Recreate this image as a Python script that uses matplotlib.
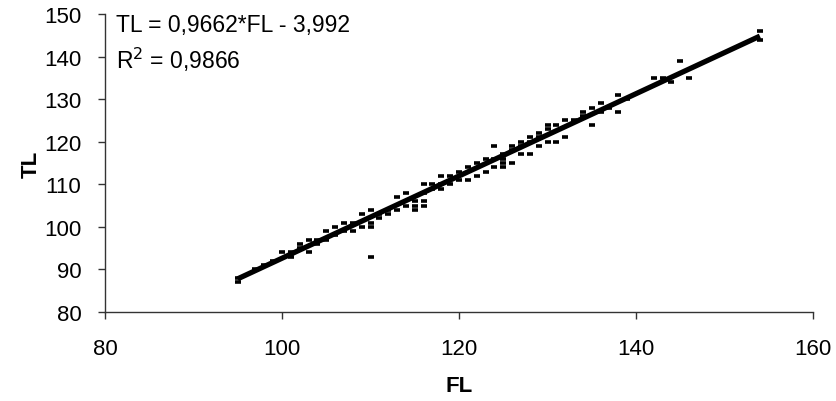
import matplotlib
matplotlib.use('Agg')
import matplotlib.pyplot as plt
import numpy as np

plt.rcParams['font.family'] = ['Liberation Sans', 'DejaVu Sans']

# Fork length vs total length, one dash per fish
FL = [95, 95, 97, 98, 99, 100, 101, 101, 102, 102, 103, 103, 104, 104, 105, 105,
      106, 106, 107, 107, 108, 108, 109, 109, 110, 110, 110, 110, 111, 111, 112, 112,
      113, 113, 114, 114, 115, 115, 115, 116, 116, 116, 116, 117, 117, 118, 118, 118,
      119, 119, 120, 120, 121, 121, 122, 122, 123, 123, 124, 124, 124, 125, 125, 125,
      125, 126, 126, 126, 127, 127, 127, 128, 128, 128, 129, 129, 129, 130, 130, 130,
      131, 131, 132, 132, 133, 134, 134, 135, 135, 136, 136, 137, 138, 138, 139, 142,
      143, 144, 145, 146, 154, 154]
TL = [87, 88, 90, 91, 92, 94, 93, 94, 96, 95, 97, 94, 96, 97, 99, 97,
      98, 100, 101, 99, 99, 101, 103, 100, 104, 101, 100, 93, 102, 103, 103, 104,
      107, 104, 108, 105, 106, 105, 104, 110, 106, 105, 108, 110, 109, 112, 109, 110,
      112, 110, 113, 111, 114, 111, 112, 115, 116, 113, 119, 114, 116, 117, 115, 114,
      116, 119, 115, 118, 120, 117, 119, 121, 117, 120, 122, 119, 121, 124, 123, 120,
      124, 120, 125, 121, 125, 127, 126, 128, 124, 129, 127, 128, 131, 127, 130, 135,
      135, 134, 139, 135, 146, 144]

# Least-squares fit reported in the annotation
SLOPE = 0.9662
INTERCEPT = -3.992
R2 = 0.9866

FS = 16

fig = plt.figure(figsize=(8.36, 4.02), dpi=100)
ax = fig.add_axes([0.1256, 0.2214, 0.8469, 0.7413])

ax.plot(FL, TL, linestyle='none', marker='_', color='black',
        markersize=4.5, markeredgewidth=2.6, zorder=3)

fit_x = np.array([min(FL), max(FL)])
ax.plot(fit_x, SLOPE * fit_x + INTERCEPT, color='black', linewidth=3.8,
        solid_capstyle='butt', zorder=4)

ax.set_xlim(80, 160)
ax.set_ylim(80, 150)
ax.set_xticks([80, 100, 120, 140, 160])
ax.set_yticks(range(80, 151, 10))

for side in ('top', 'right'):
    ax.spines[side].set_visible(False)
for side in ('left', 'bottom'):
    ax.spines[side].set_color('#333333')
    ax.spines[side].set_linewidth(1.0)

ax.tick_params(axis='x', direction='out', length=5, width=1, color='#333333',
               pad=14, labelsize=FS)
ax.tick_params(axis='y', direction='out', length=5, width=1, color='#333333',
               pad=12, labelsize=FS)

ax.set_xlabel('FL', fontsize=FS, fontweight='bold', labelpad=11.5)
ax.set_ylabel('TL', fontsize=FS, fontweight='bold')
ax.yaxis.set_label_coords(-0.089, 0.5)

ax.text(0.016, 0.966, 'TL = 0,9662*FL - 3,992', transform=ax.transAxes,
        fontsize=16.5, va='center', ha='left')
ax.text(0.016, 0.85, 'R$^2$ = 0,9866', transform=ax.transAxes,
        fontsize=16.5, va='center', ha='left')

fig.savefig('out.png', dpi=100)
